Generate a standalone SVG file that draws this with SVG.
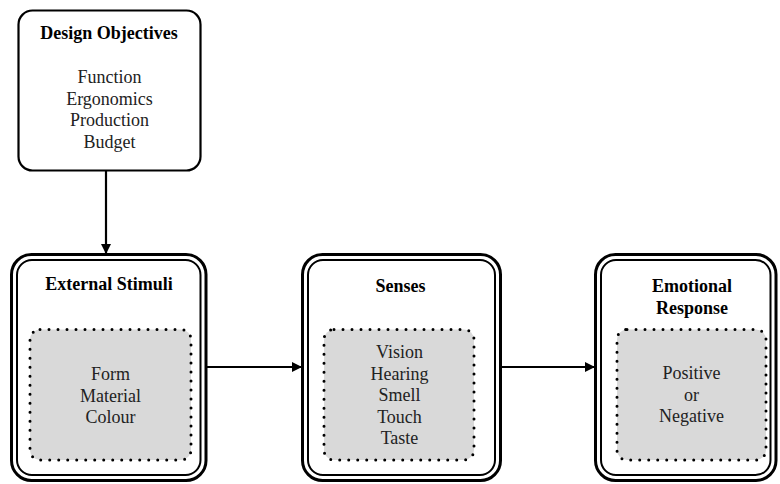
<svg xmlns="http://www.w3.org/2000/svg" width="780" height="484" viewBox="0 0 780 484">
<defs>
<marker id="ah" viewBox="0 0 10 10" refX="10" refY="5" markerWidth="10" markerHeight="10" markerUnits="userSpaceOnUse" orient="auto">
<path d="M0,0 L10,5 L0,10 Z" fill="#000"/>
</marker>
<style>
.box{fill:#fff;stroke:#000;stroke-width:2.2}
.outer{fill:#fff;stroke:#000;stroke-width:3}
.inner{fill:none;stroke:#000;stroke-width:2}
.dot{fill:#d9d9d9;stroke:#000;stroke-width:3;stroke-linecap:round;stroke-dasharray:0 9}
.t{font-size:18px;fill:#222;text-anchor:middle}
.b{font-weight:bold;fill:#000}
.conn{stroke:#000;stroke-width:2.2;fill:none}
</style>
</defs>
<rect width="780" height="484" fill="#fff"/>
<g font-family="Liberation Serif, DejaVu Serif, serif">
<g id="design-objectives">
<rect class="box" x="18.5" y="10.5" width="182" height="160" rx="14"/>
<text class="t b" x="109" y="39">Design Objectives</text>
<text class="t" x="109.5" y="83">Function</text>
<text class="t" x="109.5" y="104.5">Ergonomics</text>
<text class="t" x="109.5" y="126">Production</text>
<text class="t" x="109.5" y="147.5">Budget</text>
</g>
<g id="external-stimuli">
<rect class="outer" x="11.5" y="254.5" width="194.5" height="226" rx="20"/>
<rect class="inner" x="17" y="260" width="183.5" height="215" rx="15"/>
<rect class="dot" x="30" y="329.5" width="161" height="130.5" rx="10"/>
<text class="t b" x="109" y="290">External Stimuli</text>
<text class="t" x="110.5" y="380">Form</text>
<text class="t" x="110.5" y="401.5">Material</text>
<text class="t" x="110.5" y="423">Colour</text>
</g>
<g id="senses">
<rect class="outer" x="302.5" y="254.5" width="198" height="226" rx="20"/>
<rect class="inner" x="308" y="260" width="187" height="215" rx="15"/>
<rect class="dot" x="324" y="329.5" width="150" height="130.5" rx="10"/>
<text class="t b" x="400.5" y="292">Senses</text>
<text class="t" x="399.5" y="358">Vision</text>
<text class="t" x="399.5" y="379.5">Hearing</text>
<text class="t" x="399.5" y="401">Smell</text>
<text class="t" x="399.5" y="422.5">Touch</text>
<text class="t" x="399.5" y="444">Taste</text>
</g>
<g id="emotional-response">
<rect class="outer" x="595.5" y="254.5" width="180.5" height="226" rx="20"/>
<rect class="inner" x="601" y="260" width="169.5" height="215" rx="15"/>
<rect class="dot" x="617" y="329.5" width="149" height="130.5" rx="10"/>
<text class="t b" x="692" y="292">Emotional</text>
<text class="t b" x="692" y="313.5">Response</text>
<text class="t" x="691.5" y="379">Positive</text>
<text class="t" x="691.5" y="400.5">or</text>
<text class="t" x="691.5" y="422">Negative</text>
</g>
</g>
<g id="connectors">
<line class="conn" x1="106" y1="171" x2="106" y2="254" marker-end="url(#ah)"/>
<line class="conn" x1="207" y1="367" x2="302" y2="367" marker-end="url(#ah)"/>
<line class="conn" x1="501" y1="367" x2="595" y2="367" marker-end="url(#ah)"/>
</g>
</svg>
